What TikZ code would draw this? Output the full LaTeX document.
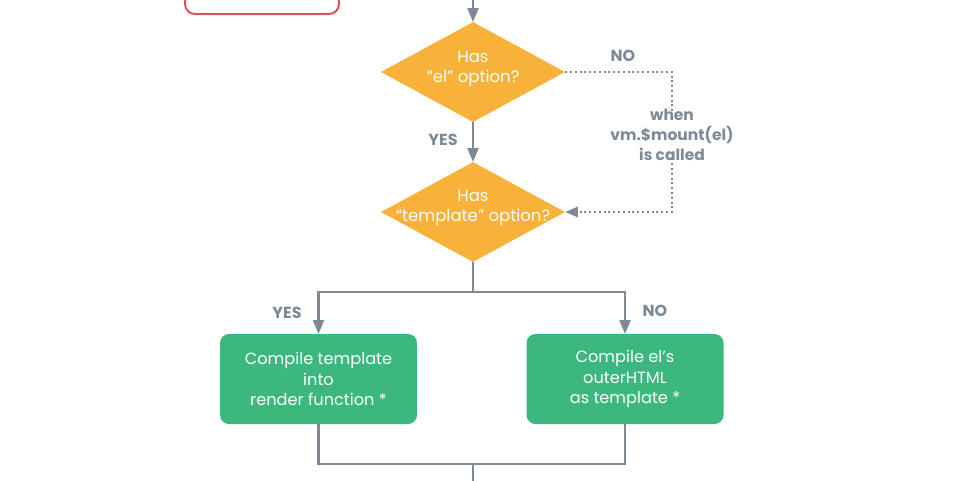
\documentclass[tikz,border=0pt]{standalone}
\usepackage{fontspec}
\setmainfont{Poppins}
\usetikzlibrary{arrows,shapes.geometric}

\definecolor{flowgray}{RGB}{125,138,150}
\definecolor{askorange}{RGB}{248,178,58}
\definecolor{stepgreen}{RGB}{60,183,126}
\definecolor{hookred}{RGB}{222,80,95}

\begin{document}
\begin{tikzpicture}[x=1pt,y=-1pt,>=triangle 45,
	decision/.style={diamond,fill=askorange,inner sep=0pt,minimum width=184pt,minimum height=100pt},
	asktext/.style={text=white,align=center,font=\fontsize{16.5}{19.5}\selectfont},
	stepbox/.style={rounded corners=9pt,fill=stepgreen,text=white,align=center,minimum width=197pt,minimum height=90pt,font=\fontsize{16.2}{20.5}\selectfont},
	flow/.style={draw=flowgray,line width=2.2pt},
	hook/.style={draw=flowgray,line width=2pt,dash pattern=on 2pt off 2.8pt},
	answer/.style={text=flowgray,font=\bfseries\fontsize{16}{19}\selectfont}]
		\clip (0,0) rectangle (960,480);
		\useasboundingbox (0,0) rectangle (960,480);
		% earlier step, cut off at the top
		\draw[draw=hookred,line width=2pt,rounded corners=10pt] (185,-40) rectangle (339,14);
		% the two questions
		\coordinate (in) at (473,-10);
		\node[decision] (el) at (473,72) {};
		\node[asktext] at ([yshift=3pt]el) {Has\\“el” option?};
		\node[decision] (tpl) at (473,212) {};
		\node[asktext] at ([yshift=4pt]tpl) {Has\\“template” option?};
		\draw[flow,->] (in) -- (el.north);
		\draw[flow,->] (el.south) -- (tpl.north);
		\node[answer] at (443,140) {YES};
		% waiting for $mount
		\node[answer] at (623,56) {NO};
		\node[text=flowgray,align=center,font=\bfseries\fontsize{15.5}{20}\selectfont] (mount) at (672,135) {when\\vm.\$mount(el)\\is called};
		\coordinate (elcorner) at (672,72);
		\coordinate (tplcorner) at (672,212);
		\draw[hook] (el.east) -- (elcorner) -- ([yshift=-6pt]mount.north);
		\draw[hook,->] ([yshift=6pt]mount.south) -- (tplcorner) -- (tpl.east);
		% the two ways to get a render function
		\node[stepbox] (fromtpl) at (318.5,379) {Compile template\\into\\render function *};
		\node[stepbox] (fromel) at (625,379) {Compile el’s\\outerHTML\\as template *};
		\coordinate (split) at (473,292);
		\coordinate (join) at (473,464);
		\coordinate (out) at (473,490);
		\draw[flow] (tpl.south) -- (split);
		\draw[flow,->] (split) -| (fromtpl.north);
		\draw[flow,->] (split) -| (fromel.north);
		\node[answer] at (287,313) {YES};
		\node[answer] at (655,311) {NO};
		\draw[flow] (fromtpl.south) |- (join);
		\draw[flow] (fromel.south) |- (join);
		\draw[flow] (join) -- (out);
	\end{tikzpicture}
\end{document}
